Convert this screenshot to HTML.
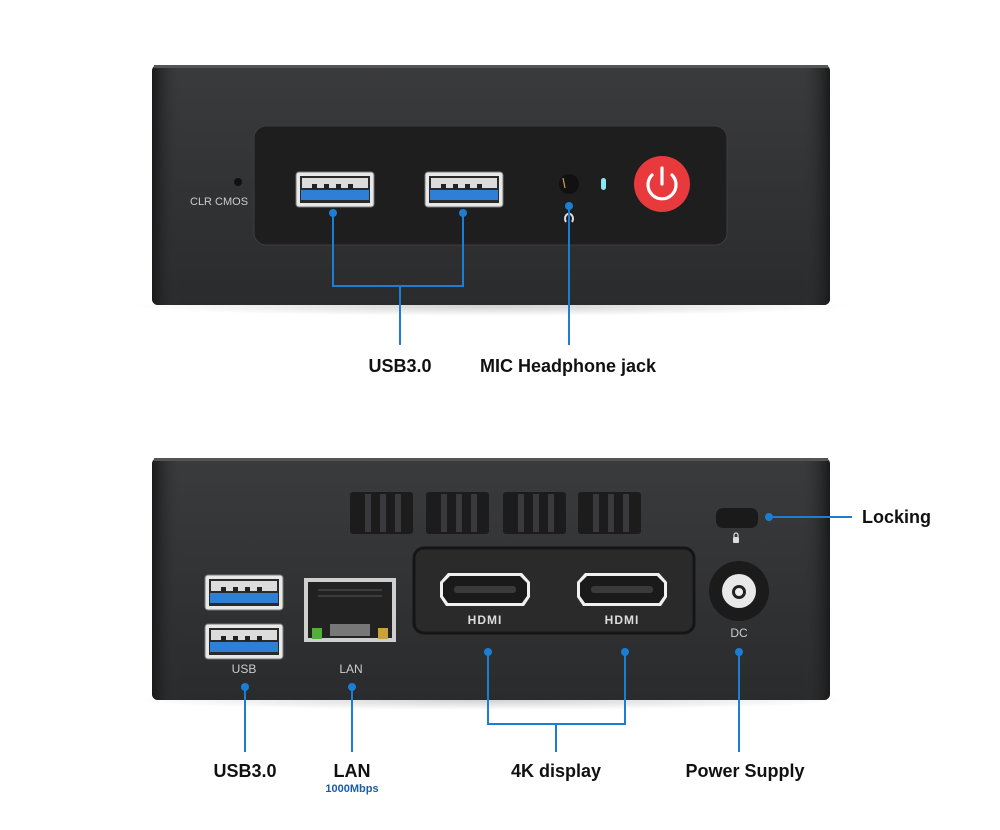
<!DOCTYPE html>
<html><head><meta charset="utf-8"><style>
html,body{margin:0;padding:0;background:#fff;width:1000px;height:830px;overflow:hidden}
svg{display:block}
text{font-family:"Liberation Sans",Arial,sans-serif}
</style></head><body>
<svg width="1000" height="830" viewBox="0 0 1000 830" xmlns="http://www.w3.org/2000/svg">
<defs>
<linearGradient id="body" x1="0" y1="0" x2="0" y2="1">
<stop offset="0" stop-color="#3a3b3d"/><stop offset="0.5" stop-color="#323335"/><stop offset="1" stop-color="#2a2b2d"/>
</linearGradient>
<linearGradient id="side" x1="0" y1="0" x2="1" y2="0">
<stop offset="0" stop-color="#1a1a1b"/><stop offset="0.04" stop-color="#333436" stop-opacity="0"/>
<stop offset="0.96" stop-color="#333436" stop-opacity="0"/><stop offset="1" stop-color="#1a1a1b"/>
</linearGradient>
<radialGradient id="shadow" cx="0.5" cy="0.5" r="0.5">
<stop offset="0" stop-color="#000" stop-opacity="0.18"/><stop offset="1" stop-color="#000" stop-opacity="0"/>
</radialGradient>
<g id="usb">
<rect x="0" y="0" width="78" height="35" rx="3" fill="#e8e8e8" stroke="#777" stroke-width="1"/>
<rect x="4" y="4" width="70" height="27" fill="#2a2a2a"/>
<rect x="6" y="6" width="66" height="10" fill="#dcdcdc"/>
<rect x="16" y="12" width="5" height="5" fill="#222"/><rect x="28" y="12" width="5" height="5" fill="#222"/><rect x="40" y="12" width="5" height="5" fill="#222"/><rect x="52" y="12" width="5" height="5" fill="#222"/>
<rect x="5" y="18" width="68" height="10" fill="#2f7fd6"/>
</g>
<g id="vent">
<rect x="0" y="0" width="63" height="42" rx="3" fill="#1c1c1d"/>
<rect x="15" y="2" width="6" height="38" fill="#3a3a3c"/>
<rect x="30" y="2" width="6" height="38" fill="#3a3a3c"/>
<rect x="45" y="2" width="6" height="38" fill="#3a3a3c"/>
</g>
<g id="hdmi">
<path d="M8 0 H82 L90 9 V24 L84 33 H6 L0 24 V9 Z" fill="#f0f0f0"/>
<path d="M10 3 H80 L87 10 V23 L82 30 H8 L3 23 V10 Z" fill="#1a1a1a"/>
<rect x="14" y="13" width="62" height="7" rx="3" fill="#3a3a3a"/>
</g>
</defs>

<!-- TOP DEVICE -->
<ellipse cx="491" cy="306" rx="360" ry="10" fill="url(#shadow)"/>
<rect x="152" y="65" width="678" height="240" rx="6" fill="url(#body)"/>
<rect x="152" y="65" width="678" height="240" rx="6" fill="url(#side)"/>
<rect x="154" y="65" width="674" height="3" fill="#555"/>
<rect x="254" y="126" width="473" height="119" rx="12" fill="#1e1e1f" stroke="#3e3e40"/>
<circle cx="238" cy="182" r="4" fill="#111"/>
<text x="190" y="205" font-size="11" fill="#ccc">CLR  CMOS</text>
<use href="#usb" x="296" y="172"/>
<use href="#usb" x="425" y="172"/>
<circle cx="569" cy="184" r="10" fill="#111"/>
<path d="M563 178 l2 10" stroke="#c9a14a" stroke-width="1.2"/>
<rect x="601" y="178" width="5" height="12" rx="2.5" fill="#8ee6f0"/>
<circle cx="662" cy="184" r="28" fill="#e83a3c"/>
<path d="M652 175 A14 14 0 1 0 672 175" fill="none" stroke="#fff" stroke-width="3.2" stroke-linecap="round"/>
<line x1="662" y1="168" x2="662" y2="184" stroke="#fff" stroke-width="3.2" stroke-linecap="round"/>
<path d="M566 222 a4 5 0 1 1 6 0" fill="none" stroke="#ddd" stroke-width="2"/>

<g stroke="#1a7fd4" stroke-width="2" fill="none">
<polyline points="333,213 333,286 463,286 463,213"/>
<line x1="400" y1="286" x2="400" y2="345"/>
<line x1="569" y1="206" x2="569" y2="345"/>
</g>
<g fill="#1a7fd4"><circle cx="333" cy="213" r="4"/><circle cx="463" cy="213" r="4"/><circle cx="569" cy="206" r="4"/></g>
<text x="400" y="372" font-size="18" font-weight="bold" text-anchor="middle" fill="#111">USB3.0</text>
<text x="568" y="372" font-size="18" font-weight="bold" text-anchor="middle" fill="#111">MIC Headphone jack</text>

<!-- BOTTOM DEVICE -->
<ellipse cx="491" cy="700" rx="360" ry="10" fill="url(#shadow)"/>
<rect x="152" y="458" width="678" height="242" rx="6" fill="url(#body)"/>
<rect x="152" y="458" width="678" height="242" rx="6" fill="url(#side)"/>
<rect x="154" y="458" width="674" height="3" fill="#555"/>
<use href="#vent" x="350" y="492"/>
<use href="#vent" x="426" y="492"/>
<use href="#vent" x="503" y="492"/>
<use href="#vent" x="578" y="492"/>
<rect x="716" y="508" width="42" height="20" rx="7" fill="#1a1a1a"/>
<rect x="733" y="537" width="6" height="6" rx="1" fill="#ddd"/>
<path d="M734 537 v-2 a2 2 0 0 1 4 0 v2" fill="none" stroke="#ddd" stroke-width="1.2"/>

<use href="#usb" x="205" y="575"/>
<use href="#usb" x="205" y="624"/>
<text x="244" y="673" font-size="12" text-anchor="middle" fill="#ccc">USB</text>
<rect x="304" y="578" width="92" height="64" fill="#cfcfcf"/>
<rect x="308" y="582" width="84" height="56" fill="#222"/>
<rect x="312" y="628" width="10" height="11" fill="#4fb03a"/>
<rect x="378" y="628" width="10" height="11" fill="#c9a23a"/>
<rect x="330" y="624" width="40" height="12" fill="#777"/>
<g stroke="#555" stroke-width="1"><line x1="318" y1="590" x2="382" y2="590"/><line x1="318" y1="596" x2="382" y2="596"/></g>
<text x="351" y="673" font-size="12" text-anchor="middle" fill="#ccc">LAN</text>

<rect x="414" y="548" width="280" height="85" rx="10" fill="#2a2a2b" stroke="#151515" stroke-width="3"/>
<use href="#hdmi" x="440" y="573"/>
<use href="#hdmi" x="577" y="573"/>
<text x="485" y="624" font-size="12" font-weight="bold" text-anchor="middle" fill="#ddd" letter-spacing="1">HDMI</text>
<text x="622" y="624" font-size="12" font-weight="bold" text-anchor="middle" fill="#ddd" letter-spacing="1">HDMI</text>

<circle cx="739" cy="591" r="30" fill="#1b1b1c"/>
<circle cx="739" cy="591" r="17" fill="#e8e8e8"/>
<circle cx="739" cy="592" r="7" fill="#222"/><circle cx="739" cy="592" r="4" fill="#eee"/>
<text x="739" y="637" font-size="12" text-anchor="middle" fill="#ccc">DC</text>

<g stroke="#1a7fd4" stroke-width="2" fill="none">
<line x1="245" y1="687" x2="245" y2="752"/>
<line x1="352" y1="687" x2="352" y2="752"/>
<polyline points="488,652 488,724 625,724 625,652"/>
<line x1="556" y1="724" x2="556" y2="752"/>
<line x1="739" y1="652" x2="739" y2="752"/>
<line x1="769" y1="517" x2="852" y2="517"/>
</g>
<g fill="#1a7fd4"><circle cx="245" cy="687" r="4"/><circle cx="352" cy="687" r="4"/><circle cx="488" cy="652" r="4"/><circle cx="625" cy="652" r="4"/><circle cx="739" cy="652" r="4"/><circle cx="769" cy="517" r="4"/></g>

<text x="862" y="523" font-size="18" font-weight="bold" fill="#111">Locking</text>
<text x="245" y="777" font-size="18" font-weight="bold" text-anchor="middle" fill="#111">USB3.0</text>
<text x="352" y="777" font-size="18" font-weight="bold" text-anchor="middle" fill="#111">LAN</text>
<text x="352" y="792" font-size="11" font-weight="bold" text-anchor="middle" fill="#1a5ea8">1000Mbps</text>
<text x="556" y="777" font-size="18" font-weight="bold" text-anchor="middle" fill="#111">4K display</text>
<text x="745" y="777" font-size="18" font-weight="bold" text-anchor="middle" fill="#111">Power Supply</text>
</svg>
</body></html>
